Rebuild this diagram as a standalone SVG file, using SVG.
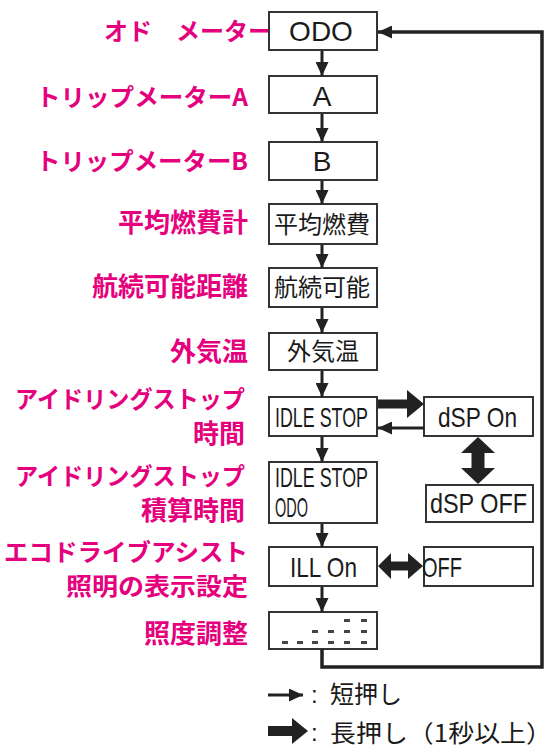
<svg xmlns="http://www.w3.org/2000/svg" width="554" height="754" viewBox="0 0 554 754">
<style>
.bg{fill:#ffffff}
.box{fill:#ffffff;stroke:#333333;stroke-width:2}
.lbl{fill:#e5007d;font-family:"Noto Sans CJK JP",sans-serif;font-weight:700;text-anchor:end}
.kj{font-size:26px}
.kt{font-size:24px}
.bt{fill:#1a1a1a;font-family:"Liberation Sans","Noto Sans CJK JP",sans-serif;font-size:28px}
.bj{fill:#1a1a1a;font-family:"Noto Sans CJK JP",sans-serif;font-size:24px;text-anchor:middle}
.ln{fill:none;stroke:#222222;stroke-width:3}
.loop{fill:none;stroke:#222222;stroke-width:3.5}
.thick{fill:#222222}
.dash{fill:#444444}
.leg{fill:#1a1a1a;font-family:"Noto Sans CJK JP",sans-serif;font-size:24px}
.col{fill:#1a1a1a;font-family:"Liberation Sans",sans-serif;font-size:24px}
</style>
<defs>
<marker id="ah" viewBox="0 0 14 14" refX="14" refY="7" markerWidth="14" markerHeight="13" markerUnits="userSpaceOnUse" orient="auto" preserveAspectRatio="none">
<path d="M0,0 L14,7 L0,14 z" fill="#222222"/>
</marker>
</defs>
<rect class="bg" x="0" y="0" width="554" height="754"/>

<g id="labels">
<text class="lbl kt" x="272" y="40" textLength="168" lengthAdjust="spacingAndGlyphs">オド　メーター</text>
<text class="lbl kt" x="248" y="106" textLength="212" lengthAdjust="spacingAndGlyphs">トリップメーターA</text>
<text class="lbl kt" x="248" y="170" textLength="212" lengthAdjust="spacingAndGlyphs">トリップメーターB</text>
<text class="lbl kj" x="248" y="232">平均燃費計</text>
<text class="lbl kj" x="248" y="296">航続可能距離</text>
<text class="lbl kj" x="248" y="361">外気温</text>
<text class="lbl kt" x="245" y="408" textLength="230" lengthAdjust="spacingAndGlyphs">アイドリングストップ</text>
<text class="lbl kj" x="245" y="443">時間</text>
<text class="lbl kt" x="245" y="485" textLength="230" lengthAdjust="spacingAndGlyphs">アイドリングストップ</text>
<text class="lbl kj" x="245" y="520">積算時間</text>
<text class="lbl kt" x="248" y="561" textLength="244" lengthAdjust="spacingAndGlyphs">エコドライブアシスト</text>
<text class="lbl kt" x="248" y="595" font-size="25" textLength="182" lengthAdjust="spacingAndGlyphs">照明の表示設定</text>
<text class="lbl kj" x="248" y="643">照度調整</text>
</g>

<g id="node-odo">
<rect class="box" x="269" y="12" width="108" height="38"/>
<text class="bt" x="321" y="41" text-anchor="middle">ODO</text>
</g>
<g id="node-a">
<rect class="box" x="269" y="76" width="108" height="37"/>
<text class="bt" x="322" y="106" text-anchor="middle">A</text>
</g>
<g id="node-b">
<rect class="box" x="269" y="142" width="108" height="38"/>
<text class="bt" x="322" y="171" text-anchor="middle">B</text>
</g>
<g id="node-avg">
<rect class="box" x="269" y="204" width="108" height="40"/>
<text class="bj" x="322" y="233">平均燃費</text>
</g>
<g id="node-range">
<rect class="box" x="269" y="268" width="108" height="39"/>
<text class="bj" x="322" y="296">航続可能</text>
</g>
<g id="node-temp">
<rect class="box" x="269" y="333" width="108" height="37"/>
<text class="bj" x="323" y="360">外気温</text>
</g>
<g id="node-idle">
<rect class="box" x="269" y="397" width="108" height="39"/>
<text class="bt" x="275" y="427" textLength="93" lengthAdjust="spacingAndGlyphs">IDLE STOP</text>
</g>
<g id="node-dsp-on">
<rect class="box" x="424" y="397" width="109" height="39"/>
<text class="bt" x="438" y="427" textLength="79" lengthAdjust="spacingAndGlyphs">dSP On</text>
</g>
<g id="node-idle-odo">
<rect class="box" x="269" y="462" width="108" height="61"/>
<text class="bt" x="275" y="487" textLength="93" lengthAdjust="spacingAndGlyphs">IDLE STOP</text>
<text class="bt" x="275" y="517" textLength="33" lengthAdjust="spacingAndGlyphs">ODO</text>
</g>
<g id="node-dsp-off">
<rect class="box" x="426" y="485" width="107" height="37"/>
<text class="bt" x="430" y="513" textLength="97" lengthAdjust="spacingAndGlyphs">dSP OFF</text>
</g>
<g id="node-ill-on">
<rect class="box" x="269" y="547" width="108" height="39"/>
<text class="bt" x="290" y="577" textLength="67" lengthAdjust="spacingAndGlyphs">ILL On</text>
</g>
<g id="node-ill-off">
<rect class="box" x="424" y="547" width="109" height="39"/>
<text class="bt" x="422" y="577" textLength="40" lengthAdjust="spacingAndGlyphs">OFF</text>
</g>
<g id="node-bright">
<rect class="box" x="269" y="612" width="108" height="37"/>
<g class="dash">
<rect x="344" y="619" width="6" height="3"/><rect x="361" y="619" width="6" height="3"/>
<rect x="312" y="630" width="6" height="3"/><rect x="328" y="630" width="6" height="3"/><rect x="344" y="630" width="6" height="3"/><rect x="361" y="630" width="6" height="3"/>
<rect x="282" y="641" width="6" height="3"/><rect x="297" y="641" width="6" height="3"/><rect x="312" y="641" width="6" height="3"/><rect x="328" y="641" width="6" height="3"/><rect x="344" y="641" width="6" height="3"/><rect x="361" y="641" width="6" height="3"/>
</g>
</g>

<g id="connectors">
<line class="ln" x1="322" y1="51" x2="322" y2="76" marker-end="url(#ah)"/>
<line class="ln" x1="322" y1="114" x2="322" y2="142" marker-end="url(#ah)"/>
<line class="ln" x1="322" y1="181" x2="322" y2="204" marker-end="url(#ah)"/>
<line class="ln" x1="322" y1="245" x2="322" y2="268" marker-end="url(#ah)"/>
<line class="ln" x1="322" y1="308" x2="322" y2="333" marker-end="url(#ah)"/>
<line class="ln" x1="322" y1="371" x2="322" y2="397" marker-end="url(#ah)"/>
<line class="ln" x1="322" y1="437" x2="322" y2="462" marker-end="url(#ah)"/>
<line class="ln" x1="322" y1="524" x2="322" y2="547" marker-end="url(#ah)"/>
<line class="ln" x1="322" y1="587" x2="322" y2="612" marker-end="url(#ah)"/>
<polygon class="thick" points="378,399.5 407,399.5 407,390 424,404 407,418 407,408.5 378,408.5"/>
<line class="ln" x1="424" y1="428" x2="378" y2="428" marker-end="url(#ah)"/>
<polygon class="thick" points="478,437 495,453 484.5,453 484.5,468 495,468 478,484 461,468 471.5,468 471.5,453 461,453"/>
<polygon class="thick" points="378,566 391,553 391,561.5 408,561.5 408,553 423,566 408,579 408,570.5 391,570.5 391,579"/>
<polyline class="loop" points="322,649 322,667 542,667 542,32 378,32" marker-end="url(#ah)"/>
</g>

<g id="legend">
<line class="ln" x1="268" y1="695" x2="303" y2="695" marker-end="url(#ah)"/>
<text class="col" x="311" y="703">:</text>
<text class="leg" x="330" y="703">短押し</text>
<polygon class="thick" points="268,726 292,726 292,718 308,731 292,744 292,736 268,736"/>
<text class="col" x="311" y="741">:</text>
<text class="leg" x="330" y="742" textLength="222" lengthAdjust="spacingAndGlyphs">長押し（1秒以上）</text>
</g>
</svg>
